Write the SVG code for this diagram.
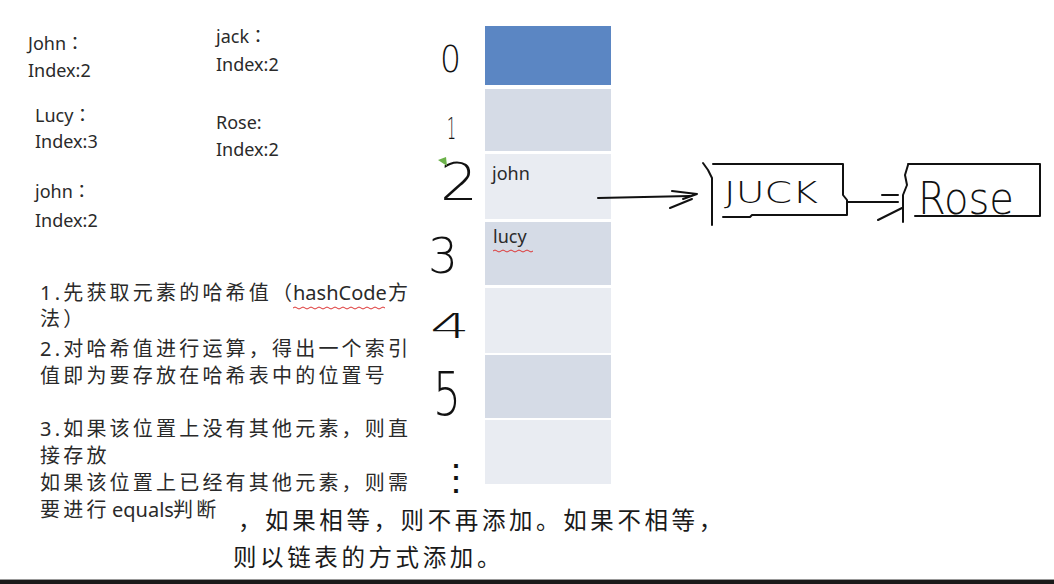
<svg xmlns="http://www.w3.org/2000/svg" width="1054" height="584" viewBox="0 0 1054 584">
<style>
.t{font-family:"Noto Sans","Noto Sans CJK SC",sans-serif;font-size:18px;fill:#2a2a2a}
.cl{font-family:"Noto Sans CJK TC",sans-serif}
.c{font-family:"Noto Sans","Noto Sans CJK SC",sans-serif;font-size:20px;fill:#2a2a2a;letter-spacing:3.2px}
.b{font-family:"Noto Sans CJK SC",sans-serif;font-size:23.5px;fill:#1a1a1a;letter-spacing:3.6px}
.h{font-family:"DejaVu Sans",sans-serif;font-weight:200;fill:#111}
.ink{fill:none;stroke:#111;stroke-width:2;stroke-linecap:round;stroke-linejoin:round}
.wave{fill:none;stroke:#d33;stroke-width:1}
.r0{fill:#5b86c3}.r1{fill:#d5dbe6}.r2{fill:#e9ecf2}
</style>
<rect width="1054" height="584" fill="#fff"/>

<g id="labels">
<text class="t" x="28" y="50">John<tspan class="cl">：</tspan></text>
<text class="t" x="28" y="77">Index:2</text>
<text class="t" x="35" y="122">Lucy<tspan class="cl">：</tspan></text>
<text class="t" x="35" y="148">Index:3</text>
<text class="t" x="35" y="198">john<tspan class="cl">：</tspan></text>
<text class="t" x="35" y="227">Index:2</text>
<text class="t" x="216" y="43">jack<tspan class="cl">：</tspan></text>
<text class="t" x="216" y="71">Index:2</text>
<text class="t" x="216" y="129">Rose:</text>
<text class="t" x="216" y="156">Index:2</text>
</g>

<g id="steps">
<text class="c" x="40" y="300">1.先获取元素的哈希值（<tspan x="293" letter-spacing="0">hashCode</tspan><tspan x="388">方</tspan></text>
<path class="wave" d="M293,308 q2,-2 4,0 t4,0 t4,0 t4,0 t4,0 t4,0 t4,0 t4,0 t4,0 t4,0 t4,0 t4,0 t4,0 t4,0 t4,0 t4,0 t4,0 t4,0 t4,0 t4,0 t4,0 t4,0 t4,0"/>
<text class="c" x="40" y="326">法）</text>
<text class="c" x="40" y="356">2.对哈希值进行运算，得出一个索引</text>
<text class="c" x="40" y="383">值即为要存放在哈希表中的位置号</text>
<text class="c" x="40" y="436">3.如果该位置上没有其他元素，则直</text>
<text class="c" x="40" y="463">接存放</text>
<text class="c" x="40" y="490">如果该位置上已经有其他元素，则需</text>
<text class="c" x="40" y="517">要进行<tspan x="112" letter-spacing="0">equals</tspan><tspan x="173">判断</tspan></text>
<text class="b" x="238" y="529">，如果相等，则不再添加。如果不相等，</text>
<text class="b" x="233" y="566" letter-spacing="2.8">则以链表的方式添加。</text>
</g>

<g id="table">
<rect class="r0" x="485" y="26" width="126" height="59"/>
<rect class="r1" x="485" y="89" width="126" height="62"/>
<rect class="r2" x="485" y="154" width="126" height="65"/>
<rect class="r1" x="485" y="222" width="126" height="63"/>
<rect class="r2" x="485" y="288" width="126" height="65"/>
<rect class="r1" x="485" y="355" width="126" height="63"/>
<rect class="r2" x="485" y="420" width="126" height="64"/>
<text class="t" x="492" y="180">john</text>
<text class="t" x="493" y="243">lucy</text>
<path class="wave" d="M493,251 q2,-2 4,0 t4,0 t4,0 t4,0 t4,0 t4,0 t4,0 t4,0 t4,0 t4,0"/>
</g>

<g id="indices">
<text class="h" x="440" y="72" font-size="37" textLength="21" lengthAdjust="spacingAndGlyphs">0</text>
<text class="h" x="447" y="139" font-size="30" textLength="9" lengthAdjust="spacingAndGlyphs">1</text>
<text class="h" x="440" y="200" font-size="52" textLength="38" lengthAdjust="spacingAndGlyphs">2</text>
<path d="M438,160 L446,157 L447,166 Z" fill="#6cb24a"/>
<text class="h" x="428" y="273" font-size="49" textLength="30" lengthAdjust="spacingAndGlyphs">3</text>
<text class="h" x="430" y="338" font-size="33" textLength="40" lengthAdjust="spacingAndGlyphs">4</text>
<text class="h" x="433" y="415" font-size="60" textLength="28" lengthAdjust="spacingAndGlyphs">5</text>
<text class="h" x="438" y="490" font-size="36">⋮</text>
</g>

<g id="jack">
<path class="ink" d="M703,163 L708,170 L712,178 L712,225"/>
<path class="ink" d="M713,164 L843,164 L843,195 L847,200 L847,215 L752,215 L750,217 L723,217"/>
<text class="h" x="724" y="203" font-size="30" textLength="94" lengthAdjust="spacingAndGlyphs">JUCK</text>
</g>

<g id="rose">
<path class="ink" d="M908,165 L905,175 L907,185 L903,195 L903,222"/>
<path class="ink" d="M908,164 L1040,164 L1040,216 L915,216"/>
<text class="h" x="918" y="214" font-size="44" textLength="96" lengthAdjust="spacingAndGlyphs">Rose</text>
</g>

<g id="connectors">
<path class="ink" d="M598,198 L690,196"/>
<path class="ink" d="M672,191 L697,194 L683,199 M670,208 L692,199"/>
<path class="ink" d="M848,202 L898,202"/>
<path class="ink" d="M882,195 L898,195 M878,220 L902,208"/>
</g>

<rect x="0" y="579" width="1054" height="1" fill="#999"/>
<rect x="0" y="580" width="1054" height="4" fill="#1a1a1a"/>
</svg>
